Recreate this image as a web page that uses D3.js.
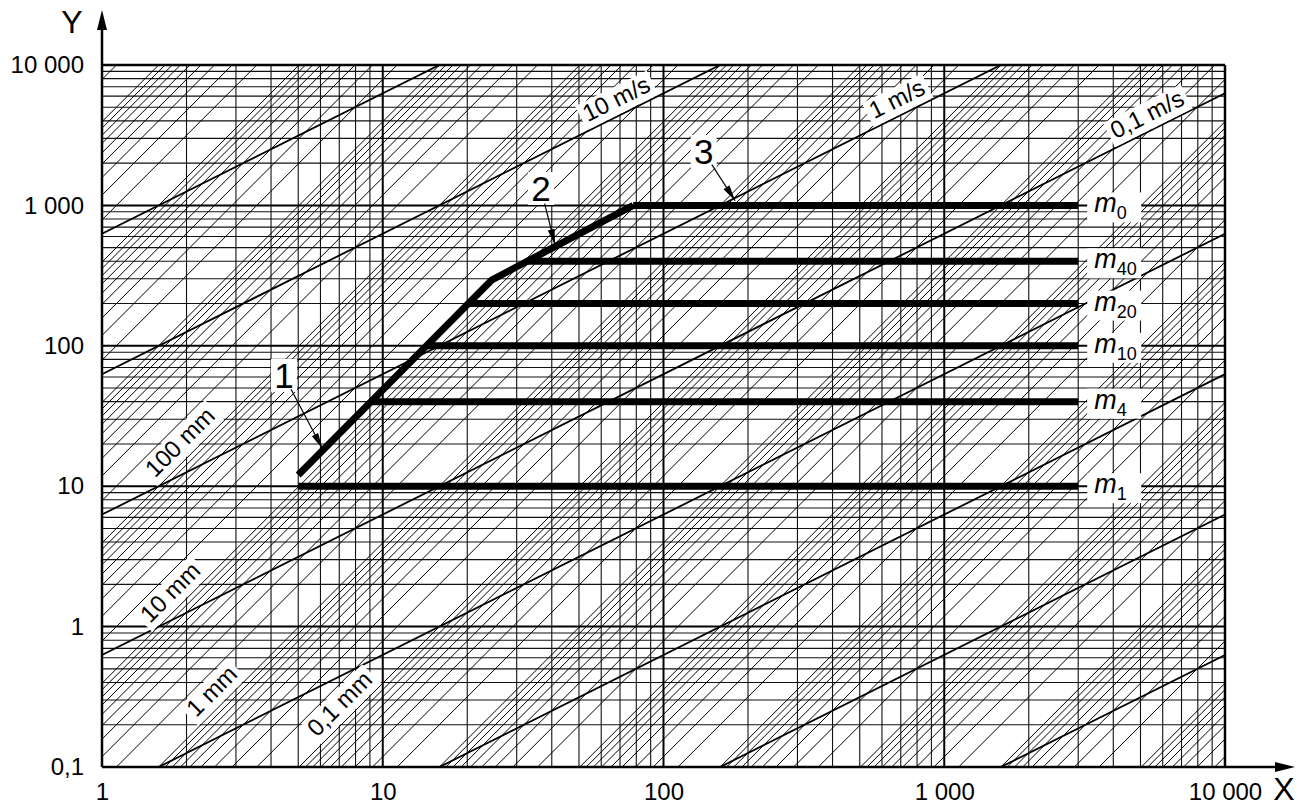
<!DOCTYPE html>
<html>
<head>
<meta charset="utf-8">
<script src="https://cdnjs.cloudflare.com/ajax/libs/d3/7.8.5/d3.min.js"></script>
<style>
  body { margin: 0; background: #fff; }
  svg { font-family: "Liberation Sans", Arial, sans-serif; }
</style>
</head>
<body>
<div id="chart"></div>
<script>
  var width = 1307, height = 808;

  // axis ticks
  var xTicks = [1, 10, 100, 1000, 10000];
  var xTickLabels = ["1", "10", "100", "1 000", "10 000"];
  var yTicks = [0.1, 1, 10, 100, 1000, 10000];
  var yTickLabels = ["0,1", "1", "10", "100", "1 000", "10 000"];

  // constant velocity lines (m/s), Y = 2*pi*X*v
  var velocities = [100, 10, 1, 0.1, 0.01, 0.001, 0.0001, 0.00001];
  var velocityLabels = ["10 m/s", "1 m/s", "0,1 m/s"];
  var velocityLabelV = [10, 1, 0.1];
  var velocityLabelX = [72, 720, 5600];

  // constant displacement lines (m), Y = (2*pi*X)^2*d, 1..9 per decade
  var dispDecades = [-12, -11, -10, -9, -8, -7, -6, -5, -4, -3, -2, -1, 0, 1, 2, 3];
  var dispSteps = [1, 2, 3, 4, 5, 6, 7, 8, 9];
  var dispLabels = ["100 mm", "10 mm", "1 mm", "0,1 mm"];
  var dispLabelD = [0.1, 0.01, 0.001, 0.0001];
  var dispLabelX = [2.08, 1.92, 2.7, 7.7];

  // envelope (heavy line) and the horizontal levels
  var envX = [5, 24.5, 78];
  var envY = [12, 295, 1000];
  var levelNames = ["0", "40", "20", "10", "4", "1"];
  var levelY = [1000, 400, 200, 100, 40, 10];
  var levelEndX = 3000;

  // callouts: text position and arrow tip, in data units
  var calloutText = ["1", "2", "3"];
  var calloutX = [4.45, 36.6, 139];
  var calloutY = [61, 1309, 2400];
  var calloutTipX = [6.1, 41.1, 180];
  var calloutTipY = [18.5, 522, 1080];

  var pLeft = 102, pRight = 1225, pTop = 65, pBottom = 767;
  var x = d3.scaleLog().domain([1, 10000]).range([pLeft, pRight]);
  var y = d3.scaleLog().domain([0.1, 10000]).range([pBottom, pTop]);

  var svg = d3.select("#chart").append("svg")
    .attr("width", width).attr("height", height)
    .style("background-color", "white");

  svg.append("defs").append("clipPath").attr("id", "plot")
    .append("rect")
    .attr("x", pLeft).attr("y", pTop)
    .attr("width", pRight - pLeft).attr("height", pBottom - pTop);

  var plot = svg.append("g").attr("clip-path", "url(#plot)");

  // minor grid
  var xMinor = [], yMinor = [];
  for (var e = 0; e < 4; e++) for (var k = 2; k < 10; k++) xMinor.push(k * Math.pow(10, e));
  for (var e = -1; e < 4; e++) for (var k = 2; k < 10; k++) yMinor.push(k * Math.pow(10, e));

  plot.selectAll(".vminor").data(xMinor).enter().append("line")
    .attr("x1", d => x(d)).attr("x2", d => x(d))
    .attr("y1", pTop).attr("y2", pBottom)
    .attr("stroke", "#111").attr("stroke-width", 1.1);
  plot.selectAll(".hminor").data(yMinor).enter().append("line")
    .attr("x1", pLeft).attr("x2", pRight)
    .attr("y1", d => y(d)).attr("y2", d => y(d))
    .attr("stroke", "#111").attr("stroke-width", 1.1);

  // displacement hatching
  var disps = [];
  dispDecades.forEach(function (n) {
    dispSteps.forEach(function (k) { disps.push(k * Math.pow(10, n)); });
  });
  function dispY(X, d) { return Math.pow(2 * Math.PI * X, 2) * d; }
  function velY(X, v) { return 2 * Math.PI * X * v; }

  plot.selectAll(".disp").data(disps).enter().append("line")
    .attr("x1", x(1)).attr("y1", d => y(dispY(1, d)))
    .attr("x2", x(10000)).attr("y2", d => y(dispY(10000, d)))
    .attr("stroke", "#000").attr("stroke-width", 1);

  plot.selectAll(".vel").data(velocities).enter().append("line")
    .attr("x1", x(1)).attr("y1", d => y(velY(1, d)))
    .attr("x2", x(10000)).attr("y2", d => y(velY(10000, d)))
    .attr("stroke", "#000").attr("stroke-width", 1.8);

  // major grid
  plot.selectAll(".vmajor").data(xTicks).enter().append("line")
    .attr("x1", d => x(d)).attr("x2", d => x(d))
    .attr("y1", pTop).attr("y2", pBottom)
    .attr("stroke", "#000").attr("stroke-width", 2);
  plot.selectAll(".hmajor").data(yTicks).enter().append("line")
    .attr("x1", pLeft).attr("x2", pRight)
    .attr("y1", d => y(d)).attr("y2", d => y(d))
    .attr("stroke", "#000").attr("stroke-width", 2);

  // heavy lines
  var heavy = svg.append("g");
  var envPts = envX.map((d, i) => [x(d), y(envY[i])]);
  heavy.append("path")
    .attr("d", d3.line()(envPts))
    .attr("fill", "none").attr("stroke", "#000")
    .attr("stroke-width", 7).attr("stroke-linejoin", "round");

  function envelopeAt(Y) {
    // X where the envelope reaches level Y (log interpolation)
    if (Y <= envY[0]) return envX[0];
    for (var i = 0; i < envY.length - 1; i++) {
      if (Y <= envY[i + 1]) {
        var t = Math.log(Y / envY[i]) / Math.log(envY[i + 1] / envY[i]);
        return envX[i] * Math.pow(envX[i + 1] / envX[i], t);
      }
    }
    return envX[envX.length - 1];
  }

  heavy.selectAll(".level").data(levelY).enter().append("line")
    .attr("x1", d => x(envelopeAt(d))).attr("x2", x(levelEndX))
    .attr("y1", d => y(d)).attr("y2", d => y(d))
    .attr("stroke", "#000").attr("stroke-width", 7);

  // level labels m_k
  var lab = svg.append("g");
  levelY.forEach(function (v, i) {
    var g = lab.append("g").attr("transform", "translate(" + (x(levelEndX) + 9) + "," + y(v) + ")");
    g.append("rect").attr("x", 0).attr("y", -13).attr("width", 54).attr("height", 30).attr("fill", "white");
    var t = g.append("text").attr("x", 7).attr("y", 7);
    t.append("tspan").text("m").attr("font-style", "italic").attr("font-size", 27);
    t.append("tspan").text(levelNames[i]).attr("font-size", 18).attr("dy", 7);
  });

  // rotated labels on the diagonal lines
  function lineLabel(px, py, angle, text) {
    var g = lab.append("g")
      .attr("transform", "translate(" + px + "," + py + ") rotate(" + angle + ")");
    var r = g.append("rect").attr("fill", "white");
    var t = g.append("text").attr("text-anchor", "middle").attr("y", -8)
      .attr("font-size", 24).text(text);
    var w = t.node().getComputedTextLength();
    r.attr("x", -w / 2 - 4).attr("y", -28).attr("width", w + 8).attr("height", 27);
  }
  var vAngle = Math.atan2(y(velY(10, 1)) - y(velY(1, 1)), x(10) - x(1)) * 180 / Math.PI;
  var dAngle = Math.atan2(y(dispY(10, 1)) - y(dispY(1, 1)), x(10) - x(1)) * 180 / Math.PI;
  velocityLabels.forEach(function (s, i) {
    var X = velocityLabelX[i];
    lineLabel(x(X), y(velY(X, velocityLabelV[i])), vAngle, s);
  });
  dispLabels.forEach(function (s, i) {
    var X = dispLabelX[i];
    lineLabel(x(X), y(dispY(X, dispLabelD[i])), dAngle, s);
  });

  // callouts with arrows
  calloutText.forEach(function (s, i) {
    var cx = x(calloutX[i]), cy = y(calloutY[i]);
    var tx = x(calloutTipX[i]), ty = y(calloutTipY[i]);
    var a = Math.atan2(ty - cy, tx - cx);
    var sx = cx + Math.cos(a) * 15, sy = cy + Math.sin(a) * 15;
    var g = lab.append("g");
    g.append("rect").attr("x", cx - 13).attr("y", cy - 17).attr("width", 26).attr("height", 33).attr("fill", "white");
    g.append("text").attr("x", cx).attr("y", cy + 12).attr("text-anchor", "middle")
      .attr("font-size", 35).text(s);
    g.append("line").attr("x1", sx).attr("y1", sy).attr("x2", tx).attr("y2", ty)
      .attr("stroke", "#000").attr("stroke-width", 1.2);
    g.append("path")
      .attr("d", "M0,0L-16,-3.5L-16,3.5Z")
      .attr("transform", "translate(" + tx + "," + ty + ") rotate(" + (a * 180 / Math.PI) + ")")
      .attr("fill", "#000");
  });

  // frame and axes
  svg.append("line").attr("x1", pLeft).attr("x2", pRight).attr("y1", pTop).attr("y2", pTop)
    .attr("stroke", "#000").attr("stroke-width", 2.5);
  svg.append("line").attr("x1", pRight).attr("x2", pRight).attr("y1", pTop).attr("y2", pBottom)
    .attr("stroke", "#000").attr("stroke-width", 2.5);
  svg.append("line").attr("x1", pLeft).attr("x2", pLeft).attr("y1", pBottom).attr("y2", 20)
    .attr("stroke", "#000").attr("stroke-width", 2.5);
  svg.append("line").attr("x1", pLeft).attr("x2", 1285).attr("y1", pBottom).attr("y2", pBottom)
    .attr("stroke", "#000").attr("stroke-width", 2.5);
  svg.append("path").attr("d", "M" + pLeft + ",10L" + (pLeft - 5) + ",30L" + (pLeft + 5) + ",30Z").attr("fill", "#000");
  svg.append("path").attr("d", "M1295," + pBottom + "L1275," + (pBottom - 5) + "L1275," + (pBottom + 5) + "Z").attr("fill", "#000");

  var yAxis = svg.append("g").attr("transform", "translate(" + pLeft + ",0)")
    .call(d3.axisLeft(y).tickValues(yTicks).tickSize(0).tickPadding(18)
      .tickFormat((d, i) => yTickLabels[i]));
  var xAxis = svg.append("g").attr("transform", "translate(0," + pBottom + ")")
    .call(d3.axisBottom(x).tickValues(xTicks).tickSize(0).tickPadding(16)
      .tickFormat((d, i) => xTickLabels[i]));
  [yAxis, xAxis].forEach(function (a) {
    a.select(".domain").remove();
    a.selectAll("text").attr("font-size", 24).attr("fill", "#000")
      .attr("font-family", "Liberation Sans, Arial, sans-serif");
  });

  svg.append("text").attr("x", 72).attr("y", 33).attr("text-anchor", "middle")
    .attr("font-size", 32).text("Y");
  svg.append("text").attr("x", 1284).attr("y", 800).attr("text-anchor", "middle")
    .attr("font-size", 32).text("X");
</script>
</body>
</html>
